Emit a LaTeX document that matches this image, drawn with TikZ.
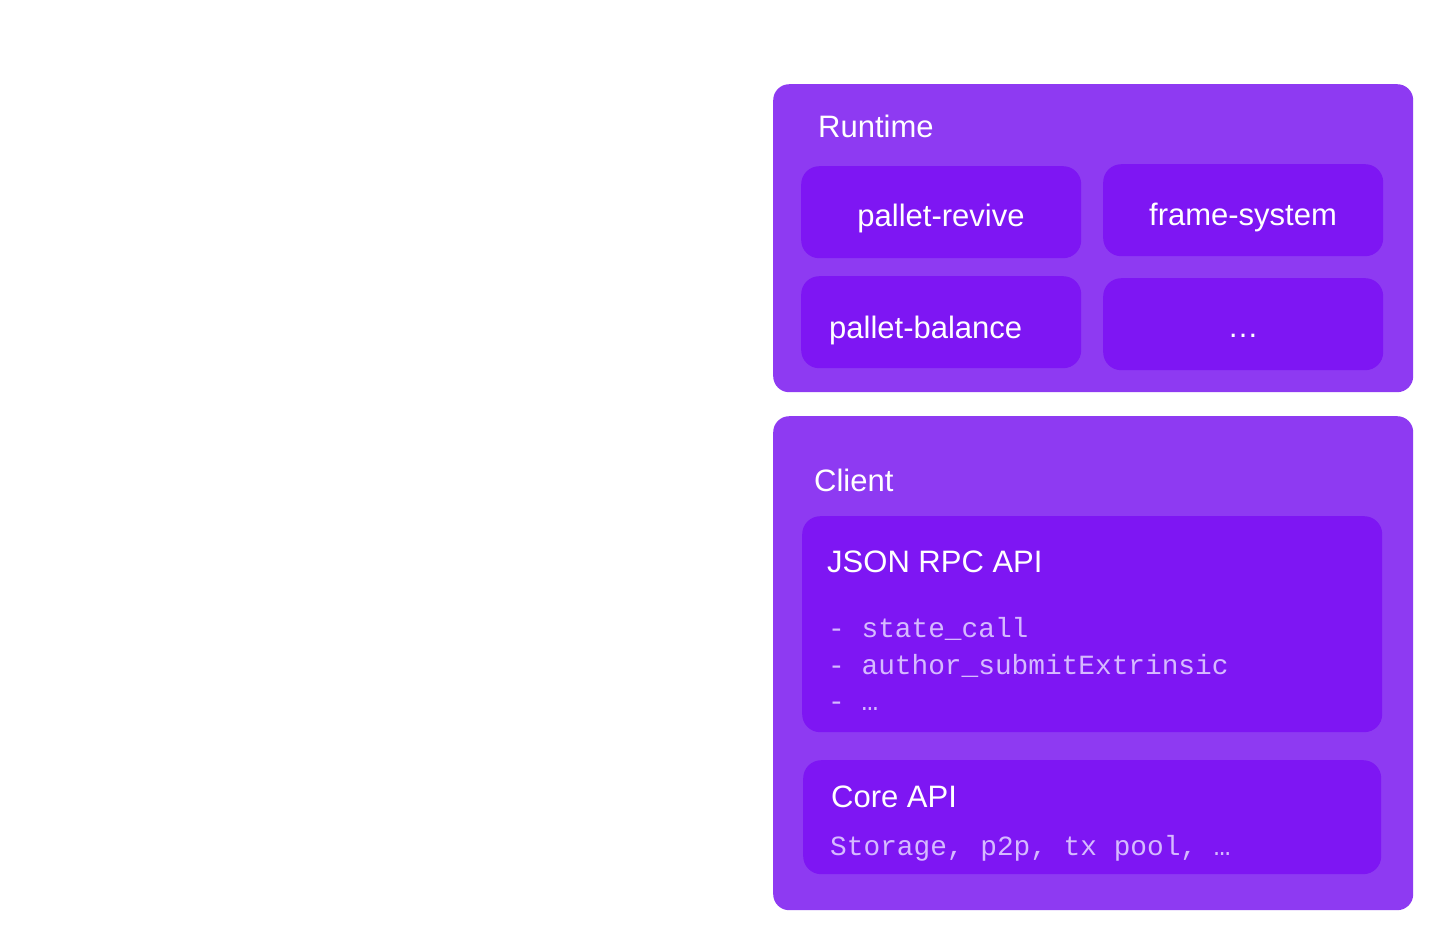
\documentclass[tikz,border=0pt]{standalone}
\usepackage{fontspec}
\setmainfont{Liberation Sans}
\setmonofont{Liberation Mono}
\definecolor{layerpurple}{RGB}{142,58,242}
\definecolor{boxpurple}{RGB}{126,22,243}
\definecolor{codelilac}{RGB}{214,186,255}
\tikzset{
	layer/.style={fill=layerpurple, rounded corners=16pt, inner sep=0pt, anchor=north west},
	module/.style={fill=boxpurple, rounded corners=18pt, inner sep=0pt, anchor=north west},
	label/.style={text=white, inner sep=0pt, anchor=base west, font=\fontsize{31}{36}\selectfont},
	code/.style={text=codelilac, inner sep=0pt, anchor=base west, font=\ttfamily\fontsize{27.8}{37}\selectfont}
}
\begin{document}
\begin{tikzpicture}[x=1pt,y=-1pt]
		\useasboundingbox[fill=white] (0,0) rectangle (1440,938);
		% runtime layer
		\node[layer, minimum width=640pt, minimum height=308pt] (runtime) at (773,84) {};
		\node[label] (runtimetitle) at (818,137) {Runtime};
		\node[module, minimum width=280pt, minimum height=92pt] (revive) at (801,166) {};
		\node[module, minimum width=280pt, minimum height=92pt] (system) at (1103,164) {};
		\node[module, minimum width=280pt, minimum height=92pt] (balance) at (801,276) {};
		\node[module, minimum width=280pt, minimum height=92pt] (more) at (1103,278) {};
		\node[label, anchor=base] (revivetext) at (941,226) {pallet-revive};
		\node[label, anchor=base] (systemtext) at (1243,225) {frame-system};
		\node[label] (balancetext) at (829,338) {pallet-balance};
		\node[label, anchor=base] (moretext) at (1243,337) {…};
		% client layer
		\node[layer, minimum width=640pt, minimum height=494pt] (client) at (773,416) {};
		\node[label] (clienttitle) at (814,491) {Client};
		\node[module, minimum width=580pt, minimum height=216pt] (rpc) at (802,516) {};
		\node[label] (rpctitle) at (827,572) {JSON RPC API};
		\node[code] (rpcone) at (828,637) {- state\_call};
		\node[code] (rpctwo) at (828,674) {- author\_submitExtrinsic};
		\node[code] (rpcthree) at (828,710) {- …};
		\node[module, minimum width=578pt, minimum height=114pt] (core) at (803,760) {};
		\node[label] (coretitle) at (831,807) {Core API};
		\node[code] (coretext) at (830,855) {Storage, p2p, tx pool, …};
	\end{tikzpicture}
\end{document}
